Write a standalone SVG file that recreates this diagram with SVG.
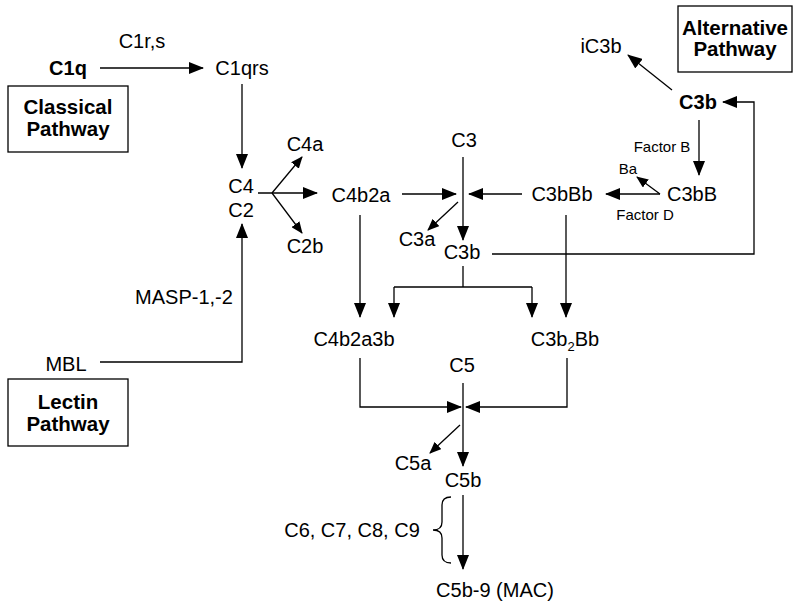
<svg xmlns="http://www.w3.org/2000/svg" width="794" height="607" viewBox="0 0 794 607">
<style>
text{font-family:"Liberation Sans",Arial,sans-serif;fill:#000}
.t{font-size:20px}
.b{font-size:20px;font-weight:bold}
.h{font-size:20.5px;font-weight:bold}
.s{font-size:15px}
.m{text-anchor:middle}
.ln{stroke:#000;stroke-width:1.3;fill:none}
.box{stroke:#000;stroke-width:1.3;fill:#fff}
</style>
<defs>
<marker id="ah" markerUnits="userSpaceOnUse" markerWidth="15" markerHeight="12" refX="14" refY="6" orient="auto"><path d="M0,0 L15,6 L0,12 z" fill="#000"/></marker>
<marker id="as" markerUnits="userSpaceOnUse" markerWidth="12" markerHeight="10" refX="11" refY="5" orient="auto"><path d="M0,0 L12,5 L0,10 z" fill="#000"/></marker>
</defs>
<g id="connectors">
<line class="ln" x1="100" y1="68" x2="203" y2="68" marker-end="url(#ah)"/>
<line class="ln" x1="242" y1="84" x2="242" y2="168" marker-end="url(#ah)"/>
<polyline class="ln" points="100,362 242,362 242,224" marker-end="url(#ah)"/>
<line class="ln" x1="272" y1="193" x2="302" y2="157" marker-end="url(#as)"/>
<line class="ln" x1="258" y1="193" x2="317" y2="193" marker-end="url(#ah)"/>
<line class="ln" x1="272" y1="193" x2="302" y2="233" marker-end="url(#as)"/>
<line class="ln" x1="402" y1="194" x2="456" y2="194" marker-end="url(#ah)"/>
<line class="ln" x1="522" y1="194" x2="469" y2="194" marker-end="url(#ah)"/>
<line class="ln" x1="463" y1="157" x2="463" y2="240" marker-end="url(#ah)"/>
<line class="ln" x1="458" y1="202" x2="428" y2="230" marker-end="url(#as)"/>
<polyline class="ln" points="492,254 754,254 754,102 723,102" marker-end="url(#ah)"/>
<line class="ln" x1="660" y1="194" x2="606" y2="194" marker-end="url(#ah)"/>
<line class="ln" x1="660" y1="194" x2="637" y2="177" marker-end="url(#as)"/>
<line class="ln" x1="699" y1="120" x2="699" y2="175" marker-end="url(#ah)"/>
<line class="ln" x1="672" y1="90" x2="628" y2="55" marker-end="url(#ah)"/>
<line class="ln" x1="360" y1="215" x2="360" y2="317" marker-end="url(#ah)"/>
<line class="ln" x1="566" y1="215" x2="566" y2="317" marker-end="url(#ah)"/>
<line class="ln" x1="463" y1="266" x2="463" y2="287"/>
<line class="ln" x1="394" y1="287" x2="532" y2="287"/>
<line class="ln" x1="394" y1="287" x2="394" y2="317" marker-end="url(#ah)"/>
<line class="ln" x1="532" y1="287" x2="532" y2="317" marker-end="url(#ah)"/>
<line class="ln" x1="463" y1="383" x2="463" y2="466" marker-end="url(#ah)"/>
<polyline class="ln" points="360,358 360,407 461,407" marker-end="url(#ah)"/>
<polyline class="ln" points="567,358 567,407 466,407" marker-end="url(#ah)"/>
<line class="ln" x1="460" y1="425" x2="430" y2="453" marker-end="url(#as)"/>
<line class="ln" x1="463" y1="495" x2="463" y2="569" marker-end="url(#ah)"/>
<path class="ln" d="M451,497 Q442,497 442,505 L442,522 Q442,530 433,530 Q442,530 442,538 L442,555 Q442,563 451,563"/>
</g>
<g id="classical-box"><rect class="box" x="8" y="86" width="120" height="66"/><text class="h m" x="68" y="114">Classical</text><text class="h m" x="68" y="136">Pathway</text></g>
<g id="lectin-box"><rect class="box" x="8" y="379" width="120" height="67"/><text class="h m" x="68" y="409">Lectin</text><text class="h m" x="68" y="431">Pathway</text></g>
<g id="alternative-box"><rect class="box" x="678" y="6" width="114" height="66"/><text class="h m" x="735" y="35">Alternative</text><text class="h m" x="735" y="56">Pathway</text></g>
<g id="c1rs"><text class="t m" x="142" y="48">C1r,s</text></g>
<g id="c1q"><text class="b m" x="68" y="75">C1q</text></g>
<g id="c1qrs"><text class="t m" x="242" y="75">C1qrs</text></g>
<g id="c4c2"><text class="t m" x="241" y="193">C4</text><text class="t m" x="241" y="217">C2</text></g>
<g id="c4a"><text class="t m" x="305" y="151">C4a</text></g>
<g id="c2b"><text class="t m" x="305" y="253">C2b</text></g>
<g id="masp"><text class="t m" x="184" y="304">MASP-1,-2</text></g>
<g id="mbl"><text class="t m" x="66" y="371">MBL</text></g>
<g id="c4b2a"><text class="t m" x="361" y="202">C4b2a</text></g>
<g id="c3"><text class="t m" x="464" y="147">C3</text></g>
<g id="c3a"><text class="t m" x="417" y="246">C3a</text></g>
<g id="c3b"><text class="t m" x="462" y="259">C3b</text></g>
<g id="c3bbb"><text class="t m" x="562" y="201">C3bBb</text></g>
<g id="c3bB"><text class="t m" x="692" y="201">C3bB</text></g>
<g id="ba"><text class="s m" x="628" y="174">Ba</text></g>
<g id="factorB"><text class="s m" x="662" y="152">Factor B</text></g>
<g id="factorD"><text class="s m" x="645" y="220">Factor D</text></g>
<g id="c3b-alt"><text class="b m" x="698" y="109">C3b</text></g>
<g id="ic3b"><text class="t m" x="601" y="53">iC3b</text></g>
<g id="c4b2a3b"><text class="t m" x="354" y="346">C4b2a3b</text></g>
<g id="c3b2bb"><text class="t m" x="565" y="346">C3b<tspan font-size="13" dy="5">2</tspan><tspan dy="-5">Bb</tspan></text></g>
<g id="c5"><text class="t m" x="462" y="372">C5</text></g>
<g id="c5a"><text class="t m" x="413" y="470">C5a</text></g>
<g id="c5b"><text class="t m" x="463" y="487">C5b</text></g>
<g id="c6-9"><text class="t m" x="352" y="537">C6, C7, C8, C9</text></g>
<g id="mac"><text class="t m" x="495" y="597">C5b-9 (MAC)</text></g>
</svg>
